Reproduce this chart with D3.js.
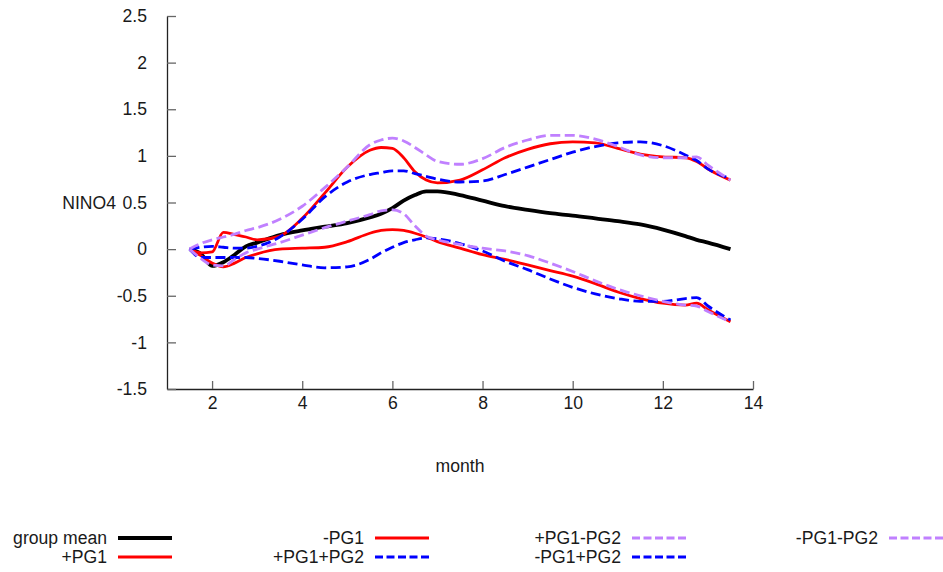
<!DOCTYPE html>
<html>
<head>
<meta charset="utf-8">
<script src="https://cdn.jsdelivr.net/npm/d3@7"></script>
<style>
  html, body { margin: 0; padding: 0; background: #fff; }
  svg { display: block; }
  text { font-family: "Liberation Sans", Arial, sans-serif; font-size: 17.6px; fill: #1a1a1a; }
</style>
</head>
<body>
<svg id="chart" width="943" height="572"></svg>
<script>
// ---- data ----
const months = [1.5,1.75,2,2.25,2.5,2.75,3,3.5,4,4.5,5,5.5,5.75,6,6.25,6.5,6.75,7,7.5,8,8.5,9,9.5,10,10.5,11,11.5,12,12.5,12.75,13,13.5];

const groupMean = [0,-0.05,-0.18,-0.14,-0.06,0.03,0.07,0.15,0.20,0.24,0.28,0.34,0.38,0.44,0.52,0.58,0.62,0.62,0.58,0.52,0.46,0.42,0.385,0.36,0.33,0.30,0.265,0.21,0.14,0.10,0.07,0.0];
const plusPG1 = [0,-0.04,-0.03,0.18,0.155,0.13,0.10,0.14,0.33,0.60,0.88,1.06,1.09,1.08,0.98,0.83,0.74,0.71,0.74,0.85,0.98,1.07,1.13,1.15,1.14,1.08,1.02,0.99,0.98,0.94,0.86,0.74];
const minusPG1 = [0,-0.07,-0.15,-0.19,-0.15,-0.09,-0.05,0.0,0.01,0.02,0.08,0.17,0.20,0.21,0.20,0.17,0.13,0.08,0.01,-0.06,-0.11,-0.17,-0.23,-0.29,-0.37,-0.46,-0.53,-0.58,-0.60,-0.58,-0.65,-0.78];
const plusPG1plusPG2 = [0,0.02,0.03,0.02,0.01,0.01,0.03,0.13,0.32,0.56,0.72,0.80,0.82,0.84,0.84,0.81,0.78,0.75,0.72,0.73,0.80,0.88,0.96,1.04,1.10,1.14,1.15,1.11,1.01,0.95,0.86,0.76];
const plusPG1minusPG2 = [0,0.06,0.10,0.13,0.16,0.20,0.23,0.32,0.46,0.66,0.88,1.12,1.17,1.19,1.16,1.09,1.01,0.94,0.91,0.97,1.09,1.17,1.22,1.22,1.18,1.10,1.01,0.98,0.98,0.99,0.90,0.74];
const minusPG1plusPG2 = [0,-0.09,-0.09,-0.09,-0.09,-0.09,-0.10,-0.13,-0.17,-0.20,-0.19,-0.11,-0.04,0.02,0.07,0.10,0.12,0.11,0.06,-0.02,-0.13,-0.22,-0.32,-0.41,-0.48,-0.53,-0.56,-0.56,-0.53,-0.52,-0.61,-0.76];
const minusPG1minusPG2 = [0,-0.10,-0.17,-0.18,-0.11,-0.04,0.0,0.07,0.15,0.23,0.30,0.37,0.41,0.42,0.38,0.25,0.14,0.10,0.05,0.01,-0.02,-0.07,-0.15,-0.24,-0.34,-0.43,-0.50,-0.56,-0.60,-0.61,-0.67,-0.78];

const seriesNames = ["group mean","+PG1","-PG1","+PG1+PG2","+PG1-PG2","-PG1+PG2","-PG1-PG2"];
const seriesValues = [groupMean, plusPG1, minusPG1, plusPG1plusPG2, plusPG1minusPG2, minusPG1plusPG2, minusPG1minusPG2];

const xTicks = [2,4,6,8,10,12,14];
const yTicks = [-1.5,-1,-0.5,0,0.5,1,1.5,2,2.5];
const xLabel = "month";
const yLabel = "NINO4";

// ---- styles ----
const styles = [
  {color:"#000000", width:3.8, dash:null},
  {color:"#ff0000", width:2.8, dash:null},
  {color:"#ff0000", width:2.8, dash:null},
  {color:"#0000ff", width:2.8, dash:"10,4.5"},
  {color:"#c080ff", width:2.8, dash:"10,4.5"},
  {color:"#0000ff", width:2.8, dash:"10,4.5"},
  {color:"#c080ff", width:2.8, dash:"10,4.5"}
];

const svg = d3.select("#chart");
const plotL = 167, plotR = 753, plotT = 16, plotB = 389;

const x = d3.scaleLinear().domain([1, 14]).range([plotL, plotR]);
const y = d3.scaleLinear().domain([-1.5, 2.5]).range([plotB, plotT]);

// axes
const xAxis = d3.axisBottom(x).tickValues(xTicks).tickSizeInner(-8).tickSizeOuter(0).tickPadding(8);
const yAxis = d3.axisLeft(y).tickValues(yTicks).tickSizeInner(-9).tickSizeOuter(0).tickPadding(20)
  .tickFormat(d => String(d));

const gx = svg.append("g").attr("transform", `translate(0,${plotB})`).call(xAxis);
const gy = svg.append("g").attr("transform", `translate(${plotL},0)`).call(yAxis);
[gx, gy].forEach(g => {
  g.select(".domain").attr("stroke", "#222").attr("stroke-width", 1.3);
  g.selectAll(".tick line").attr("stroke", "#666").attr("stroke-width", 1.3);
  g.selectAll(".tick text").attr("font-size", 17.6).attr("font-family", "Liberation Sans, Arial, sans-serif").attr("fill", "#1a1a1a");
});
gx.selectAll(".tick text").attr("dy", "0.71em");

// axis labels
svg.append("text").attr("x", (plotL + plotR) / 2).attr("y", 472).attr("text-anchor", "middle").text(xLabel);
svg.append("text").attr("x", 116).attr("y", (plotT + plotB) / 2).attr("dy", "0.35em").attr("text-anchor", "end").text(yLabel);

// lines
const line = d3.line().x(d => x(d[0])).y(d => y(d[1])).curve(d3.curveMonotoneX);
seriesValues.forEach((vals, i) => {
  const pts = months.map((m, j) => [m, vals[j]]);
  const st = styles[i];
  svg.append("path").datum(pts)
    .attr("fill", "none")
    .attr("stroke", st.color)
    .attr("stroke-width", st.width)
    .attr("stroke-linejoin", "round")
    .attr("stroke-dasharray", st.dash)
    .attr("d", line);
});

// legend (2 rows, column-major)
const colStart = [118, 375, 632, 889];
const rowY = [538, 557];
seriesNames.forEach((name, i) => {
  const col = Math.floor(i / 2), row = i % 2;
  const lx = colStart[col], ly = rowY[row];
  const st = styles[i];
  svg.append("text").attr("x", lx - 11).attr("y", ly).attr("dy", "0.35em").attr("text-anchor", "end")
    .attr("font-size", 17).text(name);
  svg.append("line").attr("x1", lx).attr("x2", lx + 54).attr("y1", ly).attr("y2", ly)
    .attr("stroke", st.color).attr("stroke-width", st.width)
    .attr("stroke-dasharray", st.dash ? "8,3.5" : null);
});
</script>
</body>
</html>
